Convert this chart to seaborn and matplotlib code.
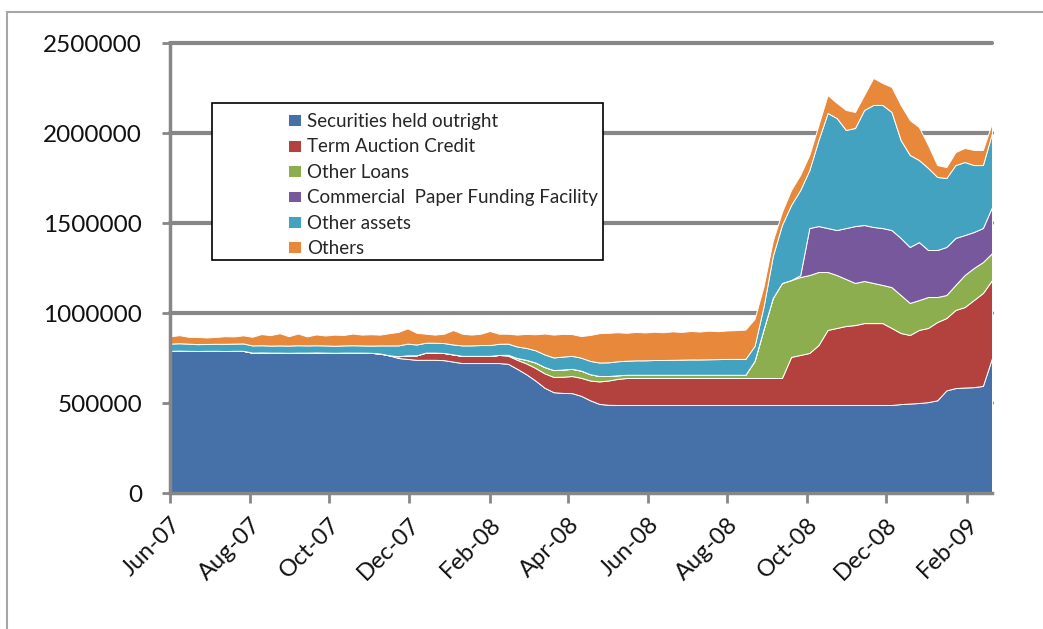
import numpy as np
import pandas as pd
import seaborn as sns
import matplotlib.pyplot as plt
from matplotlib.patches import Rectangle
from matplotlib.ticker import StrMethodFormatter

# weekly balance sheet items, $ billions (Jun-07 .. Feb-09)
weeks = pd.date_range("2007-06-06", periods=91, freq="7D")

securities = [790, 791, 790, 789, 790, 790, 789, 790, 790,
              780, 781, 780, 780, 779, 780, 780, 781, 780, 779, 780, 780, 780, 779,
              775, 765, 750, 745, 740, 740, 740, 738, 730, 722, 722, 722, 722, 722,
              718, 690, 660, 625, 585, 560, 556, 555, 540, 515, 495, 490,
              489, 489, 489, 489, 489, 489, 489, 489, 489, 489, 489, 489, 489, 489,
              489, 489, 489, 489, 489, 489, 489, 489, 489, 489, 489, 489, 489, 489,
              489, 489, 489,
              494, 497, 500, 505, 515, 570, 583, 586, 588, 595, 750]

term_auction = [0, 0, 0, 0, 0, 0, 0, 0, 0, 0, 0, 0, 0, 0, 0, 0, 0, 0, 0, 0,
                0, 0, 0, 0, 0, 10, 20, 25, 40, 40, 40, 40, 40, 40, 40, 40, 45,
                45, 50, 60, 70, 80, 85, 90, 95, 100, 110, 125, 135, 145,
                150, 150, 150, 150, 150, 150, 150, 150, 150, 150, 150, 150, 150,
                150, 150, 150, 150, 150,
                267, 278, 289, 333, 417, 428, 439, 444, 455, 455, 455, 428,
                395, 381, 406, 412, 435, 402, 434, 447, 484, 516, 433]

other_loans = [0, 0, 0, 0, 0, 0, 0, 0, 0, 0, 0, 0, 0, 0, 0, 0, 0, 0, 0, 0,
               0, 0, 0, 0, 0, 0, 0, 0, 0, 0, 0, 0, 0, 0, 0, 0, 0,
               5, 10, 20, 30, 35, 38, 40, 40, 40, 35, 30, 25, 20,
               18, 18, 18, 18, 18, 18, 18, 18, 18, 18, 18, 18, 18, 18,
               95, 273, 445, 528, 427, 433, 433, 406, 322, 294, 261, 234, 234,
               223, 212, 227, 211, 178, 166, 172, 139, 128, 139, 178, 178, 172, 150]

cpff = [0, 0, 0, 0, 0, 0, 0, 0, 0, 0, 0, 0, 0, 0, 0, 0, 0, 0, 0, 0,
        0, 0, 0, 0, 0, 0, 0, 0, 0, 0, 0, 0, 0, 0, 0, 0, 0, 0, 0, 0,
        0, 0, 0, 0, 0, 0, 0, 0, 0, 0, 0, 0, 0, 0, 0, 0, 0, 0, 0, 0,
        0, 0, 0, 0, 0, 0, 0, 0, 0,
        10, 261, 255, 244, 250, 283, 316, 311, 311, 316, 317, 317, 311, 322,
        261, 261, 267, 261, 222, 200, 189, 256]

other_assets = [40, 41, 40, 38, 38, 39, 40, 40, 41, 40, 40, 39, 40, 40, 41, 40,
                40, 40, 39, 40, 41, 40, 40,
                45, 55, 60, 65, 60, 55, 55, 55, 55, 58, 58, 60, 60, 62,
                62, 64, 66, 68, 70, 70, 72, 72, 72, 74, 75, 76, 78, 78, 80, 80,
                82, 82, 83, 84, 85, 85, 86, 87, 88, 88, 88,
                83, 127, 233, 322, 417, 473, 322, 478, 639, 622, 545, 545, 639,
                678, 684, 656, 544, 511, 456, 456, 406, 383, 405, 406, 372, 350, 411]

others = [40, 45, 38, 40, 36, 38, 42, 40, 45,
          48, 62, 58, 68, 52, 65, 50, 60, 55, 62, 58, 65, 60, 63,
          60, 68, 75, 85, 65, 50, 45,
          52, 80, 65, 60, 63, 78, 56,
          55, 66, 78, 89, 116, 127, 126, 121, 120, 144, 163, 164, 161, 155,
          158, 155, 157, 154, 158, 154, 158, 155, 159, 155, 158, 160, 163,
          150, 112, 84, 72, 83, 84, 84, 83, 100, 84, 111, 89, 83, 150, 122,
          139, 195, 194, 183, 127, 66, 61, 72, 78, 84, 84, 56]

labels = ["Securities held outright", "Term Auction Credit", "Other Loans",
          "Commercial  Paper Funding Facility", "Other assets", "Others"]
colors = ["#4670a8", "#b3423e", "#8dae4f", "#77589c", "#42a2c0", "#e8883a"]

tick_dates = pd.date_range("2007-06-06", periods=11, freq=pd.DateOffset(months=2))
y_ticks = [0, 500000, 1000000, 1500000, 2000000, 2500000]

sns.set_theme(style="white")
plt.rcParams['font.family'] = ['Lato', 'DejaVu Sans']
grey = "#878787"

fig = plt.figure(figsize=(10.43, 6.29), dpi=100)
ax = fig.add_axes([0.163, 0.2162, 0.7881, 0.7154])

series = [securities, term_auction, other_loans, cpff, other_assets, others]
ax.stackplot(weeks, *[np.array(s) * 1000 for s in series], colors=colors,
             labels=labels, edgecolor="white", linewidth=0.7, zorder=2)

# heavy excel-style gridlines behind the areas
for v in y_ticks[1:]:
    ax.axhline(v, color=grey, lw=3, zorder=1, clip_on=False)

ax.set_xlim(weeks[0], weeks[-1])
ax.set_ylim(0, 2500000)
ax.set_yticks(y_ticks)
ax.yaxis.set_major_formatter(StrMethodFormatter("{x:.0f}"))
ax.set_xticks(tick_dates)
ax.set_xticklabels([d.strftime("%b-%y") for d in tick_dates], rotation=45,
                   ha="right", rotation_mode="anchor")

ax.tick_params(axis="y", left=True, length=6, width=2, color=grey, pad=14,
               labelsize=17.5, labelcolor="#111111")
ax.tick_params(axis="x", bottom=True, length=7, width=2, color=grey, pad=8,
               labelsize=17, labelcolor="#111111")
for side in ["top", "right"]:
    ax.spines[side].set_visible(False)
for side in ["left", "bottom"]:
    ax.spines[side].set_color(grey)
    ax.spines[side].set_linewidth(2.5)
    ax.spines[side].set_zorder(3)

# legend: white box with the entries indented inside it
ax.add_patch(Rectangle((0.0511, 0.5178), 0.4757, 0.3489, transform=ax.transAxes,
                       facecolor="white", edgecolor="black", lw=1.2, zorder=4))
leg = ax.legend(loc="upper left", bbox_to_anchor=(0.1436, 0.845), frameon=False,
                fontsize=13.5, borderpad=0, borderaxespad=0, handlelength=0.7,
                handleheight=0.6, handletextpad=0.3, labelspacing=0.45)
leg.set_zorder(5)

# outer chart border
fig.add_artist(Rectangle((0.0067, -0.05), 1.1, 1.031, transform=fig.transFigure,
                         fill=False, edgecolor="#a6a6a6", lw=1.5))

fig.savefig("out.png", dpi=100)
